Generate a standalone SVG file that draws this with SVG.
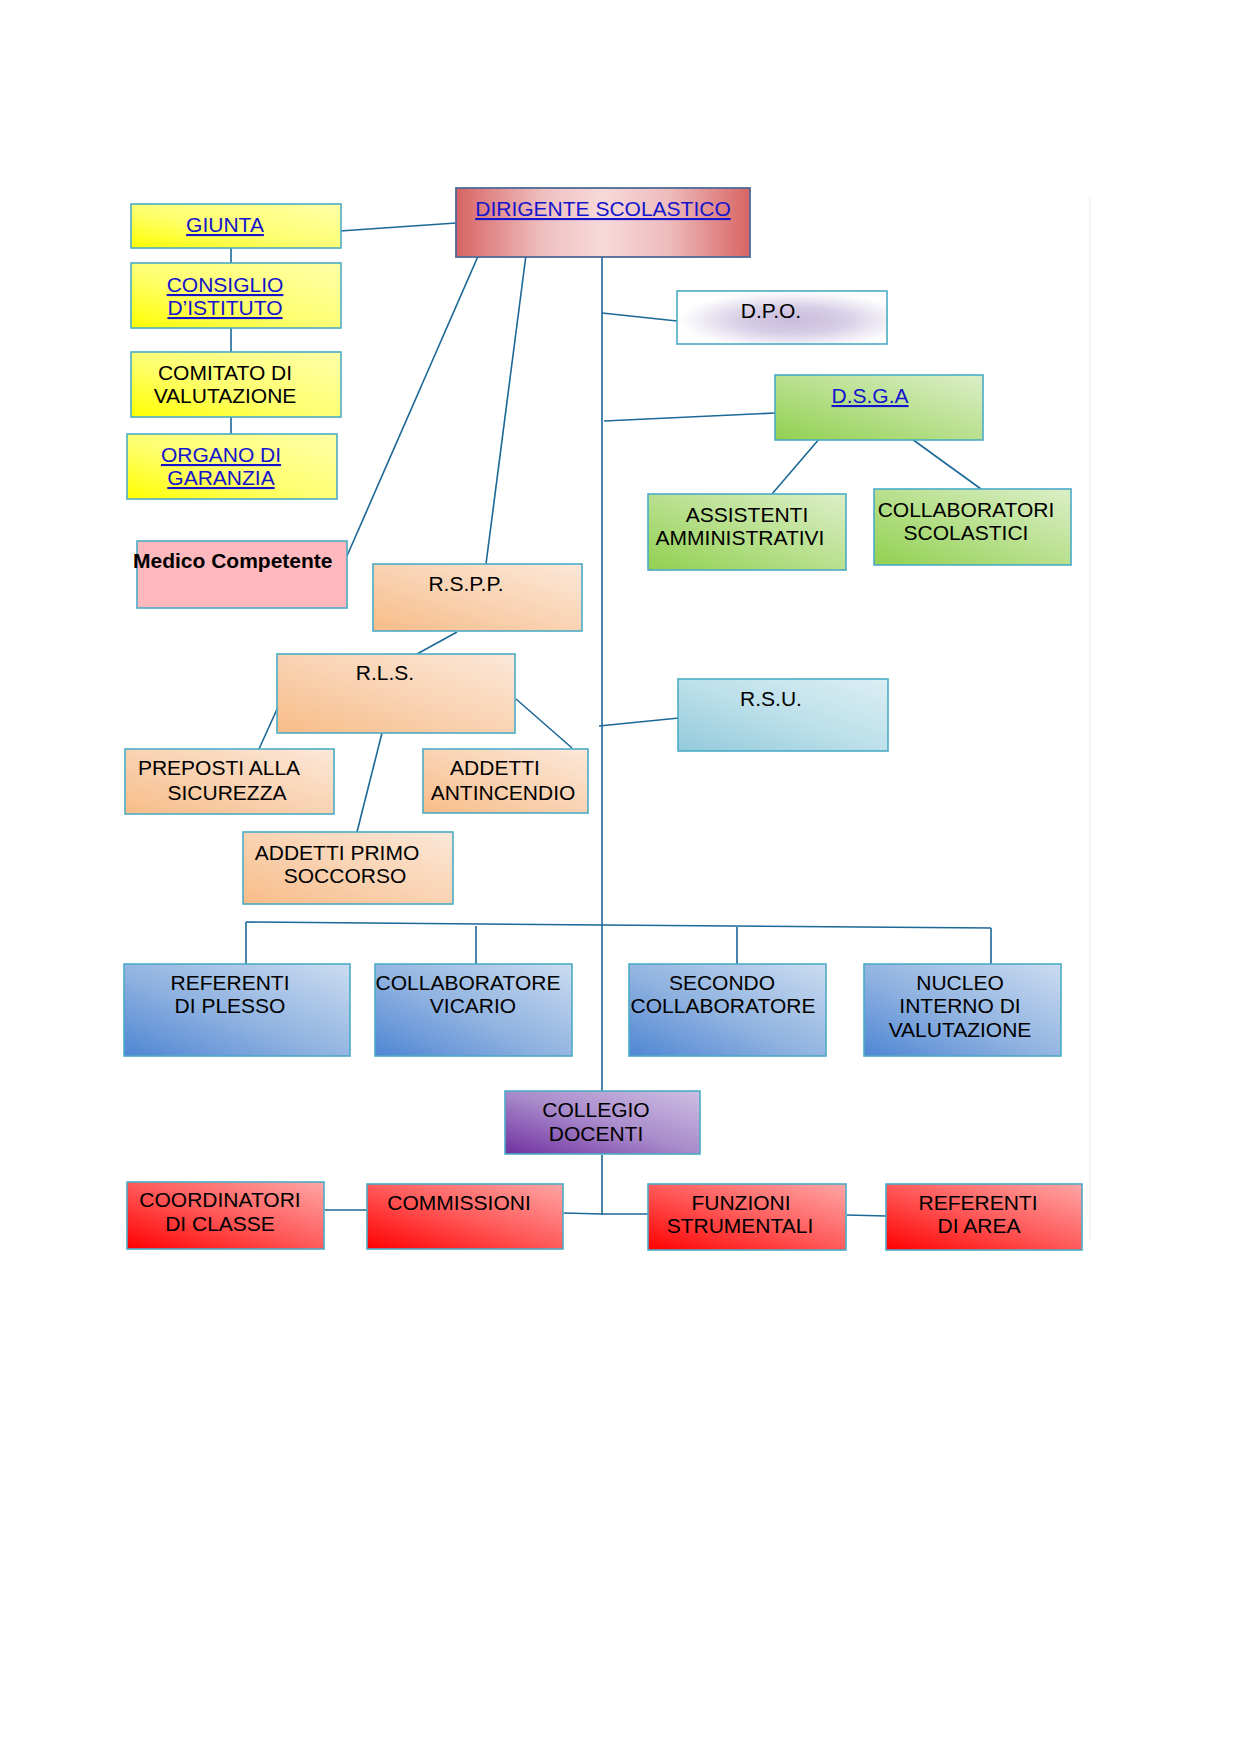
<svg xmlns="http://www.w3.org/2000/svg" width="1240" height="1755" viewBox="0 0 1240 1755">
<defs>
<linearGradient id="gYellow" x1="0" y1="1" x2="1" y2="0"><stop offset="0" stop-color="#ffff00"/><stop offset="0.45" stop-color="#ffff70"/><stop offset="1" stop-color="#ffffa8"/></linearGradient>
<linearGradient id="gRed" x1="0" y1="0" x2="1" y2="0"><stop offset="0" stop-color="#d86464"/><stop offset="0.3" stop-color="#efc0c0"/><stop offset="0.5" stop-color="#f7d9d9"/><stop offset="0.72" stop-color="#eebcbc"/><stop offset="1" stop-color="#d86464"/></linearGradient>
<radialGradient id="gDpo" cx="0.55" cy="0.55" r="0.55"><stop offset="0" stop-color="#c8bcdc"/><stop offset="0.45" stop-color="#d6cde6"/><stop offset="0.8" stop-color="#f1eef6"/><stop offset="1" stop-color="#ffffff"/></radialGradient>
<linearGradient id="gGreen" x1="0" y1="1" x2="1" y2="0"><stop offset="0" stop-color="#92d050"/><stop offset="0.5" stop-color="#b8e08e"/><stop offset="1" stop-color="#dcefc8"/></linearGradient>
<linearGradient id="gPeach" x1="0" y1="1" x2="1" y2="0"><stop offset="0" stop-color="#f8bc88"/><stop offset="0.5" stop-color="#f9d3b3"/><stop offset="1" stop-color="#fce8d9"/></linearGradient>
<linearGradient id="gCyan" x1="0" y1="1" x2="1" y2="0"><stop offset="0" stop-color="#93cadb"/><stop offset="0.5" stop-color="#bde0ea"/><stop offset="1" stop-color="#dbeef3"/></linearGradient>
<linearGradient id="gBlue" x1="0" y1="1" x2="1" y2="0"><stop offset="0" stop-color="#4f86d4"/><stop offset="0.45" stop-color="#8fb2e0"/><stop offset="1" stop-color="#cbdcf0"/></linearGradient>
<linearGradient id="gPurple" x1="0" y1="1" x2="1" y2="0"><stop offset="0" stop-color="#7030a0"/><stop offset="0.5" stop-color="#a98bcb"/><stop offset="1" stop-color="#cdbfe2"/></linearGradient>
<linearGradient id="gRedBox" x1="0" y1="1" x2="1" y2="0"><stop offset="0" stop-color="#ff0000"/><stop offset="0.5" stop-color="#ff5a5a"/><stop offset="1" stop-color="#ffa6a6"/></linearGradient>
</defs>
<style>
.box{stroke:#4bacc6;stroke-width:1.6}
.t{font-family:"Liberation Sans",Arial,sans-serif;font-size:21px;fill:#000;text-anchor:middle}
.l{fill:#1414cc;text-decoration:underline}
.b{font-weight:bold;text-anchor:start}
.c{stroke:#1c6896;stroke-width:1.6;fill:none}
</style>
<rect width="1240" height="1755" fill="#ffffff"/>
<line x1="1090" y1="197" x2="1090" y2="1240" stroke="#f4f4ee" stroke-width="1.5"/>
<g id="connectors">
<line class="c" x1="340" y1="231" x2="456" y2="223"/>
<line class="c" x1="231" y1="248" x2="231" y2="263"/>
<line class="c" x1="231" y1="328" x2="231" y2="352"/>
<line class="c" x1="231" y1="417" x2="231" y2="434"/>
<line class="c" x1="479" y1="254" x2="347" y2="556"/>
<line class="c" x1="526" y1="255" x2="486" y2="564"/>
<line class="c" x1="602" y1="257" x2="602" y2="1091"/>
<line class="c" x1="602" y1="313" x2="677" y2="321"/>
<line class="c" x1="604" y1="421" x2="775" y2="413"/>
<line class="c" x1="820" y1="438" x2="772" y2="494"/>
<line class="c" x1="905" y1="434" x2="981" y2="489"/>
<line class="c" x1="457" y1="632" x2="417" y2="654"/>
<line class="c" x1="278" y1="707" x2="259" y2="749"/>
<line class="c" x1="384" y1="725" x2="357" y2="832"/>
<line class="c" x1="516" y1="699" x2="572" y2="748"/>
<line class="c" x1="599" y1="726" x2="679" y2="718"/>
<polyline class="c" points="246,922 602,925 991,928"/>
<line class="c" x1="246" y1="922" x2="246" y2="964"/>
<line class="c" x1="476" y1="926" x2="476" y2="964"/>
<line class="c" x1="737" y1="927" x2="737" y2="964"/>
<line class="c" x1="991" y1="928" x2="991" y2="964"/>
<line class="c" x1="602" y1="1155" x2="602" y2="1215"/>
<line class="c" x1="325" y1="1210" x2="367" y2="1210"/>
<line class="c" x1="564" y1="1213" x2="602" y2="1214"/>
<line class="c" x1="602" y1="1214" x2="649" y2="1214"/>
<line class="c" x1="847" y1="1215" x2="886" y2="1216"/>
</g>
<g id="giunta"><rect class="box" x="131" y="204" width="210" height="44" fill="url(#gYellow)"/><text class="t l" x="225" y="232">GIUNTA</text></g>
<g id="consiglio"><rect class="box" x="131" y="263" width="210" height="65" fill="url(#gYellow)"/><text class="t l" x="225" y="292">CONSIGLIO</text><text class="t l" x="225" y="315">D’ISTITUTO</text></g>
<g id="comitato"><rect class="box" x="131" y="352" width="210" height="65" fill="url(#gYellow)"/><text class="t" x="225" y="380">COMITATO DI</text><text class="t" x="225" y="403">VALUTAZIONE</text></g>
<g id="organo"><rect class="box" x="127" y="434" width="210" height="65" fill="url(#gYellow)"/><text class="t l" x="221" y="462">ORGANO DI</text><text class="t l" x="221" y="485">GARANZIA</text></g>
<g id="dirigente"><rect x="456" y="188" width="294" height="69" fill="url(#gRed)" stroke="#4e6a96" stroke-width="1.8"/><text class="t l" x="603" y="216">DIRIGENTE SCOLASTICO</text></g>
<g id="dpo"><rect class="box" x="677" y="291" width="210" height="53" fill="url(#gDpo)"/><text class="t" x="771" y="318">D.P.O.</text></g>
<g id="dsga"><rect class="box" x="775" y="375" width="208" height="65" fill="url(#gGreen)"/><text class="t l" x="870" y="403">D.S.G.A</text></g>
<g id="assistenti"><rect class="box" x="648" y="494" width="198" height="76" fill="url(#gGreen)"/><text class="t" x="747" y="522">ASSISTENTI</text><text class="t" x="740" y="545">AMMINISTRATIVI</text></g>
<g id="collab-scol"><rect class="box" x="874" y="489" width="197" height="76" fill="url(#gGreen)"/><text class="t" x="966" y="517">COLLABORATORI</text><text class="t" x="966" y="540">SCOLASTICI</text></g>
<g id="medico"><rect class="box" x="137" y="541" width="210" height="67" fill="#ffb8bd"/><text class="t b" x="133" y="568">Medico Competente</text></g>
<g id="rspp"><rect class="box" x="373" y="564" width="209" height="67" fill="url(#gPeach)"/><text class="t" x="466" y="591">R.S.P.P.</text></g>
<g id="rls"><rect class="box" x="277" y="654" width="238" height="79" fill="url(#gPeach)"/><text class="t" x="385" y="680">R.L.S.</text></g>
<g id="preposti"><rect class="box" x="125" y="749" width="209" height="65" fill="url(#gPeach)"/><text class="t" x="219" y="775">PREPOSTI ALLA</text><text class="t" x="227" y="800">SICUREZZA</text></g>
<g id="antincendio"><rect class="box" x="423" y="749" width="165" height="64" fill="url(#gPeach)"/><text class="t" x="495" y="775">ADDETTI</text><text class="t" x="503" y="800">ANTINCENDIO</text></g>
<g id="primo-soccorso"><rect class="box" x="243" y="832" width="210" height="72" fill="url(#gPeach)"/><text class="t" x="337" y="860">ADDETTI PRIMO</text><text class="t" x="345" y="883">SOCCORSO</text></g>
<g id="rsu"><rect class="box" x="678" y="679" width="210" height="72" fill="url(#gCyan)"/><text class="t" x="771" y="706">R.S.U.</text></g>
<g id="referenti-plesso"><rect class="box" x="124" y="964" width="226" height="92" fill="url(#gBlue)"/><text class="t" x="230" y="990">REFERENTI</text><text class="t" x="230" y="1013">DI PLESSO</text></g>
<g id="vicario"><rect class="box" x="375" y="964" width="197" height="92" fill="url(#gBlue)"/><text class="t" x="468" y="990">COLLABORATORE</text><text class="t" x="473" y="1013">VICARIO</text></g>
<g id="secondo"><rect class="box" x="629" y="964" width="197" height="92" fill="url(#gBlue)"/><text class="t" x="722" y="990">SECONDO</text><text class="t" x="723" y="1013">COLLABORATORE</text></g>
<g id="nucleo"><rect class="box" x="864" y="964" width="197" height="92" fill="url(#gBlue)"/><text class="t" x="960" y="990">NUCLEO</text><text class="t" x="960" y="1013">INTERNO DI</text><text class="t" x="960" y="1037">VALUTAZIONE</text></g>
<g id="collegio"><rect class="box" x="505" y="1091" width="195" height="63" fill="url(#gPurple)"/><text class="t" x="596" y="1117">COLLEGIO</text><text class="t" x="596" y="1141">DOCENTI</text></g>
<g id="coordinatori"><rect class="box" x="127" y="1182" width="197" height="67" fill="url(#gRedBox)"/><text class="t" x="220" y="1207">COORDINATORI</text><text class="t" x="220" y="1231">DI CLASSE</text></g>
<g id="commissioni"><rect class="box" x="367" y="1184" width="196" height="65" fill="url(#gRedBox)"/><text class="t" x="459" y="1210">COMMISSIONI</text></g>
<g id="funzioni"><rect class="box" x="648" y="1184" width="198" height="66" fill="url(#gRedBox)"/><text class="t" x="741" y="1210">FUNZIONI</text><text class="t" x="740" y="1233">STRUMENTALI</text></g>
<g id="referenti-area"><rect class="box" x="886" y="1184" width="196" height="66" fill="url(#gRedBox)"/><text class="t" x="978" y="1210">REFERENTI</text><text class="t" x="979" y="1233">DI AREA</text></g>
</svg>
